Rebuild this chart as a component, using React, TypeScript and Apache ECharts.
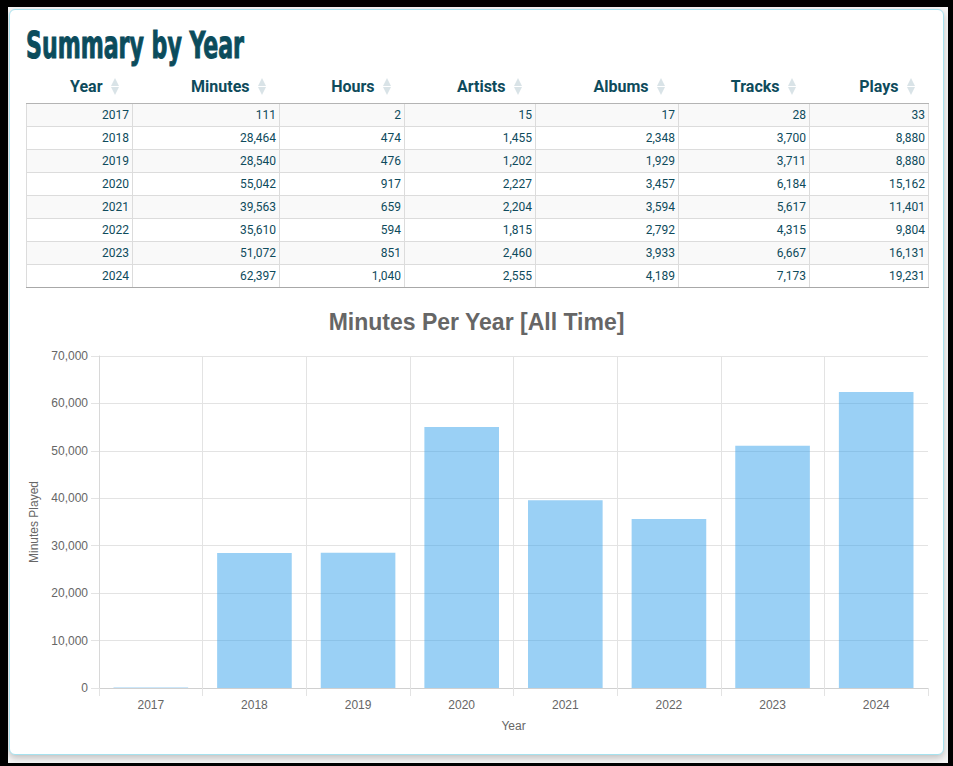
import React, { useEffect, useRef } from "react";
import * as echarts from "echarts";

const years = ["2017", "2018", "2019", "2020", "2021", "2022", "2023", "2024"];
const minutes = [111, 28464, 28540, 55042, 39563, 35610, 51072, 62397];
const hours = [2, 474, 476, 917, 659, 594, 851, 1040];
const artists = [15, 1455, 1202, 2227, 2204, 1815, 2460, 2555];
const albums = [17, 2348, 1929, 3457, 3594, 2792, 3933, 4189];
const tracks = [28, 3700, 3711, 6184, 5617, 4315, 6667, 7173];
const plays = [33, 8880, 8880, 15162, 11401, 9804, 16131, 19231];
const headers = ["Year", "Minutes", "Hours", "Artists", "Albums", "Tracks", "Plays"];
const colWidths = [106, 147, 125, 131, 143, 131, 119];
const yTicks = [0, 10000, 20000, 30000, 40000, 50000, 60000, 70000];

const fmt = (v: number) => v.toLocaleString("en-US");

const SortIcon = () => (
  <svg width="8" height="17" viewBox="0 0 8 17" style={{ position: "absolute", right: 14, top: 4 }}>
    <polygon points="4,0 8,8 0,8" fill="#d9e3e7" />
    <polygon points="0,9 8,9 4,17" fill="#d9e3e7" />
  </svg>
);

export default function App() {
  const ref = useRef<HTMLDivElement>(null);
  useEffect(() => {
    if (!ref.current) return;
    const chart = echarts.init(ref.current, undefined, { renderer: "svg" });
    const font = "'Liberation Sans', Arial, Helvetica, sans-serif";
    chart.setOption({
      animation: false,
      title: {
        text: "Minutes Per Year [All Time]",
        left: "center",
        top: 15,
        textStyle: { fontFamily: font, fontSize: 23, fontWeight: "bold", color: "#666" },
      },
      grid: { left: 99, right: 25, top: 66, bottom: 68 },
      xAxis: {
        type: "category",
        data: years,
        name: "Year",
        nameLocation: "middle",
        nameGap: 32,
        nameTextStyle: { fontFamily: font, fontSize: 12, color: "#666" },
        axisLine: { show: true, lineStyle: { color: "#d0d0d0" } },
        axisTick: { show: true, length: 8, interval: 0, lineStyle: { color: "#e3e3e3" } },
        axisLabel: { fontFamily: font, fontSize: 12, color: "#666", margin: 11, interval: 0 },
        splitLine: { show: true, interval: 0, showMaxLine: false, lineStyle: { color: "#e3e3e3" } },
      },
      yAxis: {
        type: "value",
        min: yTicks[0],
        max: yTicks[yTicks.length - 1],
        interval: yTicks[1] - yTicks[0],
        name: "Minutes Played",
        nameLocation: "middle",
        nameGap: 55,
        nameTextStyle: { fontFamily: font, fontSize: 12, color: "#666" },
        axisLine: { show: true, lineStyle: { color: "#d8d8d8" } },
        axisTick: { show: true, length: 8, lineStyle: { color: "#e3e3e3" } },
        axisLabel: { fontFamily: font, fontSize: 12, color: "#666", margin: 11, formatter: (v: number) => fmt(v) },
        splitLine: { show: true, lineStyle: { color: "#e3e3e3" } },
      },
      series: [
        {
          type: "bar",
          data: minutes,
          barWidth: "72%",
          itemStyle: { color: "rgba(54,162,235,0.5)" },
        },
      ],
    });
    return () => chart.dispose();
  }, []);

  const rows = years.map((y, i) => [y, fmt(minutes[i]), fmt(hours[i]), fmt(artists[i]), fmt(albums[i]), fmt(tracks[i]), fmt(plays[i])]);
  const textColor = "#0e4b5c";

  return (
    <div style={{ position: "absolute", left: 0, top: 0, width: 953, height: 766, background: "#000", overflow: "hidden" }}>
      <div style={{ position: "absolute", left: 8, top: 7, width: 940, height: 756, background: "#f6f6f6" }} />
      <div
        style={{
          position: "absolute",
          left: 9,
          top: 9,
          width: 935,
          height: 746,
          boxSizing: "border-box",
          background: "#fff",
          border: "1px solid #a6e2ef",
          borderRadius: 6,
          boxShadow: "0 3px 7px rgba(0,0,0,0.22)",
        }}
      />
      <svg style={{ position: "absolute", left: 26, top: 22, overflow: "visible" }} width="230" height="48">
        <text
          x="0"
          y="36"
          textLength="218"
          lengthAdjust="spacingAndGlyphs"
          style={{ fontFamily: "'Liberation Sans Narrow', 'DejaVu Sans Condensed', 'Roboto', sans-serif", fontWeight: 900, fontSize: 38, fill: "#0b4c5c", stroke: "#0b4c5c", strokeWidth: 1 }}
        >
          Summary by Year
        </text>
      </svg>
      <table
        style={{
          position: "absolute",
          left: 26,
          top: 74,
          width: 902,
          borderCollapse: "collapse",
          tableLayout: "fixed",
          fontFamily: "Roboto, sans-serif",
          color: textColor,
        }}
      >
        <colgroup>
          {colWidths.map((w, i) => (
            <col key={i} style={{ width: w }} />
          ))}
        </colgroup>
        <thead>
          <tr>
            {headers.map((h) => (
              <th
                key={h}
                style={{
                  position: "relative",
                  height: 29,
                  padding: "0 30px 0 0",
                  textAlign: "right",
                  verticalAlign: "top",
                  fontSize: 16,
                  fontWeight: "bold",
                  borderBottom: "1px solid #b4b4b4",
                  boxSizing: "border-box",
                  lineHeight: "25px",
                }}
              >
                {h}
                <SortIcon />
              </th>
            ))}
          </tr>
        </thead>
        <tbody>
          {rows.map((r, ri) => (
            <tr key={ri} style={{ background: ri % 2 === 0 ? "#f9f9f9" : "#fff" }}>
              {r.map((c, ci) => (
                <td
                  key={ci}
                  style={{
                    height: 22,
                    padding: "0 3px",
                    textAlign: "right",
                    fontSize: 12,
                    lineHeight: "22px",
                    borderLeft: "1px solid #dcdcdc",
                    borderRight: "1px solid #dcdcdc",
                    borderBottom: ri === rows.length - 1 ? "1px solid #a8a8a8" : "1px solid #dcdcdc",
                    boxSizing: "border-box",
                  }}
                >
                  {c}
                </td>
              ))}
            </tr>
          ))}
        </tbody>
      </table>
      <div ref={ref} style={{ position: "absolute", left: 0, top: 290, width: 953, height: 466 }} />
    </div>
  );
}
